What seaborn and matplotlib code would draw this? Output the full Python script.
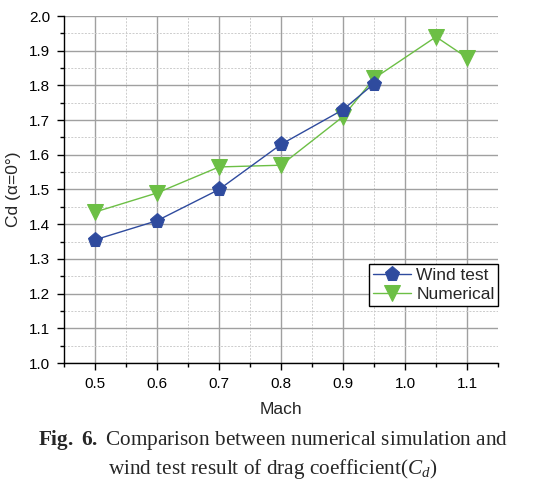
import matplotlib
matplotlib.use("Agg")
import matplotlib.pyplot as plt
import seaborn as sns
import pandas as pd
from matplotlib.ticker import MultipleLocator, FormatStrFormatter

mach_wind = [0.5, 0.6, 0.7, 0.8, 0.9, 0.95]
cd_wind = [1.355, 1.41, 1.50, 1.63, 1.73, 1.805]
mach_num = [0.5, 0.6, 0.7, 0.8, 0.9, 0.95, 1.05, 1.1]
cd_num = [1.435, 1.49, 1.565, 1.57, 1.71, 1.82, 1.94, 1.88]

sns.set_style("white")
plt.rcParams['font.family'] = ['Liberation Sans', 'DejaVu Sans']
plt.rcParams['mathtext.fontset'] = 'custom'
plt.rcParams['mathtext.rm'] = 'Liberation Serif'
plt.rcParams['mathtext.it'] = 'Liberation Serif:italic'
plt.rcParams['mathtext.bf'] = 'Liberation Serif:bold'

fig = plt.figure(figsize=(5.46, 4.90), dpi=100)
ax = fig.add_axes([64/546, 1-363/490, (498-64)/546, (363-16)/490])

df_w = pd.DataFrame({"Mach": mach_wind, "Cd": cd_wind})
df_n = pd.DataFrame({"Mach": mach_num, "Cd": cd_num})

sns.lineplot(data=df_w, x="Mach", y="Cd", ax=ax, color="#2f4b9e", marker="p",
             markersize=11, markeredgecolor="#2f4b9e", linewidth=1, label="Wind test", zorder=4)
sns.lineplot(data=df_n, x="Mach", y="Cd", ax=ax, color="#6cbf45", marker="v",
             markersize=11, markeredgecolor="#6cbf45", linewidth=1, label="Numerical", zorder=3)

ax.set_xlim(0.45, 1.15)
ax.set_ylim(1.0, 2.0)
ax.xaxis.set_major_locator(MultipleLocator(0.1))
ax.xaxis.set_minor_locator(MultipleLocator(0.05))
ax.yaxis.set_major_locator(MultipleLocator(0.1))
ax.yaxis.set_minor_locator(MultipleLocator(0.05))
ax.xaxis.set_major_formatter(FormatStrFormatter('%.1f'))
ax.yaxis.set_major_formatter(FormatStrFormatter('%.1f'))

ax.grid(which="major", color="#a0a0a0", linestyle="-", linewidth=1.0)
ax.grid(which="minor", color="#cccccc", linestyle=(0, (2, 1.5)), linewidth=0.7)
ax.set_axisbelow(True)

for s in ["top", "right"]:
    ax.spines[s].set_visible(False)
for s in ["left", "bottom"]:
    ax.spines[s].set_color("black")
    ax.spines[s].set_linewidth(1.0)

ax.tick_params(which="major", direction="out", length=5, width=1, colors="black",
               labelsize=11, left=True, bottom=True, pad=5)
ax.tick_params(which="minor", direction="out", length=3, width=1, colors="black",
               left=True, bottom=True)

ax.set_xlabel("Mach", fontsize=12.5, labelpad=8)
ax.set_ylabel("Cd (α=0°)", fontsize=12.5, labelpad=6)

leg = ax.legend(loc="lower right", bbox_to_anchor=(1.0, 0.165), fontsize=12.5,
                frameon=True, fancybox=False, edgecolor="black", framealpha=1,
                handlelength=2.2, borderpad=0.2, handletextpad=0.3, labelspacing=0.25,
                borderaxespad=0)
leg.get_frame().set_linewidth(1.0)

fig.text(0.5, 1-440/490, r"$\mathbf{Fig.\ 6.}$ Comparison between numerical simulation and",
         ha="center", va="center", fontsize=15.3, family="Liberation Serif")
fig.text(0.5, 1-469/490, r"wind test result of drag coefficient($\mathit{C_d}$)",
         ha="center", va="center", fontsize=15.3, family="Liberation Serif")

fig.savefig("out.png", dpi=100)
